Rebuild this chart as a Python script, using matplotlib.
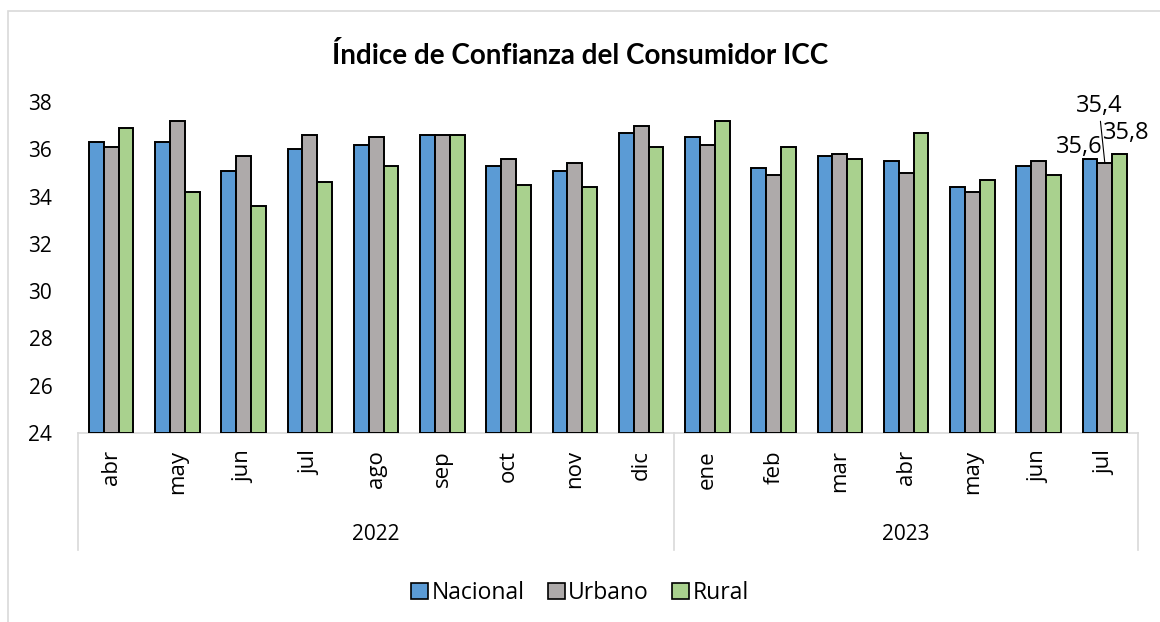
import matplotlib
matplotlib.use("Agg")
import matplotlib.pyplot as plt
import matplotlib.transforms as mtransforms
from matplotlib.patches import Patch, Rectangle
import numpy as np

months = ["abr", "may", "jun", "jul", "ago", "sep", "oct", "nov", "dic",
          "ene", "feb", "mar", "abr", "may", "jun", "jul"]
years = ["2022", "2023"]
year_counts = [9, 7]
series_names = ["Nacional", "Urbano", "Rural"]
nacional = [36.3, 36.3, 35.1, 36.0, 36.2, 36.6, 35.3, 35.1, 36.7,
            36.5, 35.2, 35.7, 35.5, 34.4, 35.3, 35.6]
urbano = [36.1, 37.2, 35.7, 36.6, 36.5, 36.6, 35.6, 35.4, 37.0,
          36.2, 34.9, 35.8, 35.0, 34.2, 35.5, 35.4]
rural = [36.9, 34.2, 33.6, 34.6, 35.3, 36.6, 34.5, 34.4, 36.1,
         37.2, 36.1, 35.6, 36.7, 34.7, 34.9, 35.8]
colors = ["#5B9BD5", "#AEAAAA", "#A9D18E"]
title = "Índice de Confianza del Consumidor ICC"

plt.rcParams['font.family'] = ['Open Sans', 'DejaVu Sans']

W, H = 1160, 622
fig = plt.figure(figsize=(W / 100, H / 100), dpi=100)

# plot area in pixels
L, R, T, B = 78, 1138, 102, 433
ax = fig.add_axes([L / W, 1 - B / H, (R - L) / W, (B - T) / H])

n = len(months)
x = np.arange(n)
bw = 0.223
data = [nacional, urbano, rural]
for k, (vals, c) in enumerate(zip(data, colors)):
    ax.bar(x + (k - 1) * bw, np.array(vals) - 24, bottom=24, width=bw,
           color=c, edgecolor="black", linewidth=1.4, zorder=3)

ax.set_xlim(-0.5, n - 0.5)
ax.set_ylim(24, 38)
ax.set_yticks(np.arange(24, 39, 2))
ax.set_yticklabels([str(v) for v in range(24, 39, 2)])
ax.tick_params(axis="y", length=0, pad=18.5, labelsize=15)
ax.set_xticks([])
for s in ["left", "right", "top"]:
    ax.spines[s].set_visible(False)
ax.spines["bottom"].set_color("#d9d9d9")
ax.spines["bottom"].set_linewidth(1.2)

# multi-level category axis
ph = B - T
trans = mtransforms.blended_transform_factory(ax.transData, ax.transAxes)
y_bottom = (B - 550) / ph
bounds = [-0.5]
for c in year_counts:
    bounds.append(bounds[-1] + c)
for bx in bounds:
    ax.plot([bx, bx], [0, y_bottom], transform=trans, color="#d9d9d9",
            lw=1.2, clip_on=False)

y_month = (B - 450) / ph
for i, m in enumerate(months):
    ax.text(i, y_month, m, transform=trans, rotation=90, ha="center",
            va="top", fontsize=16)

y_year = (B - 535) / ph
for j, yr in enumerate(years):
    cx = (bounds[j] + bounds[j + 1]) / 2
    ax.text(cx, y_year, yr, transform=trans, ha="center", va="center",
            fontsize=15)

# data labels for last month
last = n - 1
ax.annotate(f"{nacional[last]:.1f}".replace(".", ","),
            xy=(last - bw, nacional[last]), xytext=(-11, 12),
            textcoords="offset pixels", ha="center", va="center", fontsize=17)
ax.annotate(f"{urbano[last]:.1f}".replace(".", ","),
            xy=(last, urbano[last]), xytext=(-6, 57),
            textcoords="offset pixels", ha="center", va="center", fontsize=17,
            arrowprops=dict(arrowstyle="-", color="black", lw=0.8,
                            shrinkA=0, shrinkB=0))
ax.annotate(f"{rural[last]:.1f}".replace(".", ","),
            xy=(last + bw, rural[last]), xytext=(7, 21),
            textcoords="offset pixels", ha="center", va="center", fontsize=17)

fig.text(0.5, 1 - 55 / H, title, ha="center", va="center", fontsize=20,
         fontweight="bold", family=["Lato", "DejaVu Sans"])

handles = [Patch(facecolor=c, edgecolor="black", linewidth=1.2, label=nm)
           for c, nm in zip(colors, series_names)]
fig.legend(handles=handles, loc="center", bbox_to_anchor=(0.5, 1 - 593 / H),
           ncol=3, frameon=False, fontsize=16.5, handlelength=0.75,
           handleheight=0.75, handletextpad=0.15, columnspacing=1.0)

# outer chart border
fig.patches.append(Rectangle((8 / W, -0.1), 1.2, 1 - 11 / H + 0.1,
                             transform=fig.transFigure, fill=False,
                             edgecolor="#d9d9d9", lw=1.2))

fig.savefig("out.png", dpi=100)
